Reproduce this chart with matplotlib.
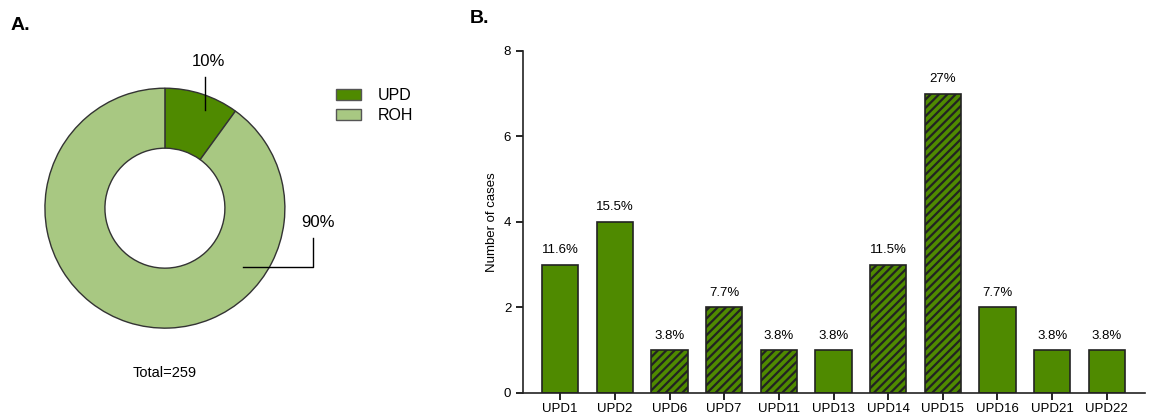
import matplotlib
matplotlib.use("Agg")
import matplotlib.pyplot as plt
from matplotlib.patches import Patch

plt.rcParams["font.family"] = ["Liberation Sans", "DejaVu Sans"]
plt.rcParams["hatch.linewidth"] = 1.6

# panel A data
pie_labels = ["UPD", "ROH"]
pie_pct = [10, 90]
total = 259

# panel B data
upd_types = ["UPD1", "UPD2", "UPD6", "UPD7", "UPD11", "UPD13",
             "UPD14", "UPD15", "UPD16", "UPD21", "UPD22"]
cases = [3, 4, 1, 2, 1, 1, 3, 7, 2, 1, 1]
pct_labels = ["11.6%", "15.5%", "3.8%", "7.7%", "3.8%", "3.8%",
              "11.5%", "27%", "7.7%", "3.8%", "3.8%"]
hatched = [False, False, True, True, True, False,
           True, True, False, False, False]

dark = "#4f8a00"
light = "#a8c882"
edge = "#333333"

fig = plt.figure(figsize=(11.52, 4.18), dpi=100)

# ---- A: donut ----
ax1 = fig.add_axes([0.039, 0.215, 0.2083, 0.574])
ax1.pie(pie_pct, colors=[dark, light], startangle=90, counterclock=False,
        radius=1, wedgeprops=dict(width=0.5, edgecolor=edge, linewidth=1.0))
ax1.set_xlim(-1, 1)
ax1.set_ylim(-1, 1)
ax1.set_aspect("auto")
ax1.axis("off")

ax1.plot([0.333, 0.333], [0.82, 1.09], color="black", lw=1, clip_on=False)
ax1.text(0.36, 1.22, f"{pie_pct[0]}%", ha="center", va="center", fontsize=12)
ax1.plot([0.65, 1.233, 1.233], [-0.49, -0.49, -0.25], color="black", lw=1, clip_on=False)
ax1.text(1.28, -0.117, f"{pie_pct[1]}%", ha="center", va="center", fontsize=12)
ax1.text(0.0, -1.37, f"Total={total}", ha="center", va="center", fontsize=10.5)

handles = [Patch(facecolor=c, edgecolor="#555555", lw=1) for c in [dark, light]]
fig.legend(handles, pie_labels, loc="center left", bbox_to_anchor=(0.279, 0.747),
           frameon=False, fontsize=11.5, handlelength=1.55, handleheight=0.65,
           labelspacing=0.3, handletextpad=1.05)

fig.text(0.009, 0.94, "A.", fontsize=14, fontweight="bold", va="center")
fig.text(0.408, 0.955, "B.", fontsize=14, fontweight="bold", va="center")

# ---- B: bars ----
ax2 = fig.add_axes([0.454, 0.06, 0.54, 0.818])
x = range(len(upd_types))
for i in x:
    ax2.bar(i, cases[i], width=0.66, color=dark, edgecolor="#222222",
            linewidth=1.2, hatch="////" if hatched[i] else None, zorder=2)
    ax2.text(i, cases[i] + 0.2, pct_labels[i], ha="center", va="bottom", fontsize=9.5)

ax2.set_xlim(-0.68, 10.7)
ax2.set_ylim(0, 8)
ax2.set_yticks([0, 2, 4, 6, 8])
ax2.set_xticks(list(x))
ax2.set_xticklabels(upd_types, fontsize=9.5)
ax2.tick_params(axis="y", labelsize=9.5, length=5, width=1.2)
ax2.tick_params(axis="x", length=5, width=1.2, pad=2)
ax2.set_ylabel("Number of cases", fontsize=9.5)
for s in ["top", "right"]:
    ax2.spines[s].set_visible(False)
for s in ["left", "bottom"]:
    ax2.spines[s].set_linewidth(1.2)
    ax2.spines[s].set_color("#222222")

fig.savefig("out.png", dpi=100)
